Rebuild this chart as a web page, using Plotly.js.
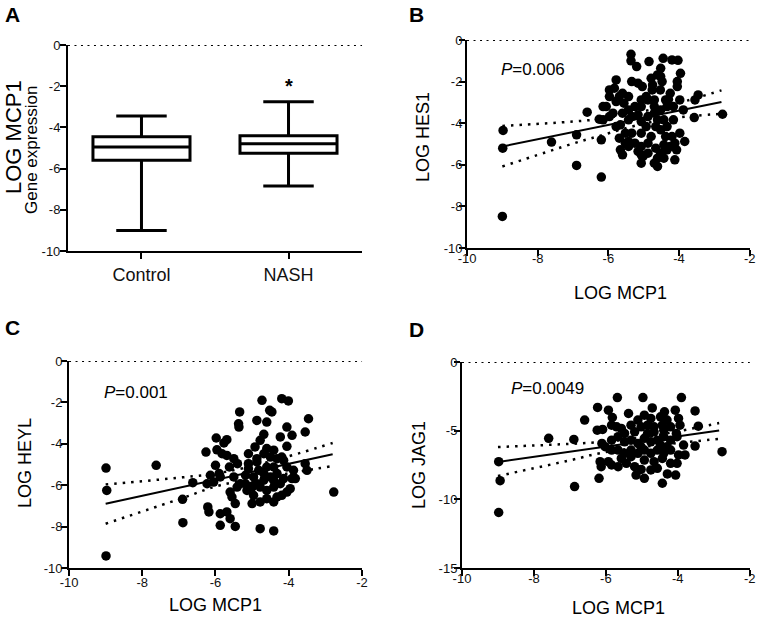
<!DOCTYPE html>
<html>
<head>
<meta charset="utf-8">
<script src="https://cdn.plot.ly/plotly-3.0.1.min.js"></script>
<style>html,body{margin:0;padding:0;background:#fff;}#chart{width:762px;height:620px;}</style>
</head>
<body>
<div id="chart"></div>
<script>
// ---------- Panel A: box plot ----------
const GROUPS = ['Control', 'NASH'];
const BOX_LOWER = [-9.0, -6.85];
const BOX_Q1 = [-5.6, -5.25];
const BOX_MEDIAN = [-4.95, -4.8];
const BOX_Q3 = [-4.45, -4.4];
const BOX_UPPER = [-3.45, -2.75];

// ---------- Panel B: LOG MCP1 vs LOG HES1 ----------
const B_POINTS = [[-8.98,-4.35],[-8.99,-5.2],[-9.0,-8.48],[-7.61,-4.91],[-6.9,-6.03],[-6.9,-4.56],[-6.6,-3.47],[-6.2,-6.59],[-6.26,-3.81],[-6.2,-4.8],
[-5.36,-0.69],[-5.36,-1.0],[-4.85,-1.04],[-4.45,-0.88],[-4.2,-0.96],[-4.03,-0.98],[-3.96,-1.6],[-4.05,-2.0],[-4.05,-2.24],[-5.78,-1.92],
[-5.34,-2.0],[-5.2,-1.28],[-4.79,-1.84],[-4.52,-1.36],[-4.48,-2.0],[-4.76,-2.4],[-5.04,-2.24],[-4.93,-2.72],[-4.53,-2.4],[-5.97,-2.4],
[-5.83,-2.32],[-5.6,-2.56],[-5.43,-2.72],[-5.97,-2.72],[-6.06,-3.2],[-5.78,-2.96],[-5.56,-3.04],[-5.6,-3.52],[-5.43,-3.84],[-5.25,-3.2],
[-5.07,-3.2],[-4.88,-2.88],[-4.7,-2.88],[-4.3,-2.85],[-4.34,-3.2],[-4.16,-3.2],[-3.98,-2.88],[-3.55,-2.88],[-3.46,-2.64],[-3.57,-3.73],
[-2.77,-3.57],[-3.84,-4.88],[-3.98,-4.48],[-4.12,-4.96],[-4.07,-5.28],[-4.12,-5.76],[-4.43,-5.04],[-4.52,-5.44],[-4.61,-6.08],[-4.7,-5.92],
[-4.61,-5.68],[-5.07,-5.92],[-5.02,-5.6],[-4.88,-5.44],[-5.16,-5.36],[-5.43,-4.88],[-5.66,-5.28],[-5.6,-5.52],[-5.69,-4.72],[-5.78,-4.16],
[-5.66,-4.08],[-5.07,-4.48],[-4.79,-4.64],[-4.88,-4.96],[-4.52,-4.32],[-4.34,-4.16],[-4.38,-4.64],[-4.2,-4.64],[-4.25,-5.12],[-5.25,-4.96],
[-5.34,-4.48],[-5.34,-3.68],[-4.88,-3.68],[-4.7,-3.52],[-4.52,-3.36],[-4.61,-3.84],[-5.07,-3.92],[-5.16,-3.6],[-5.87,-3.52],[-5.97,-3.68],
[-6.15,-3.84],[-6.15,-3.2],[-5.52,-4.48],[-5.52,-4.96],[-5.07,-5.12],[-4.66,-5.2],[-4.93,-4.16],[-4.66,-4.16],[-4.43,-3.84],[-4.16,-3.84],
[-3.88,-3.36],[-4.38,-2.88],[-4.25,-2.56],[-5.07,-2.88],[-4.75,-2.16],[-4.61,-1.68],[-4.52,-1.76],[-5.16,-2.08],[-4.7,-3.2],[-5.43,-3.36],
[-5.69,-2.72],[-4.43,-5.68],[-4.34,-5.28],[-5.07,-5.52],[-5.43,-5.12]];
const B_FIT_X = [-9.0, -2.8];
const B_FIT_Y = [-5.12, -2.98];
const B_CI_X = [-9.0, -7.0, -6.27, -5.0, -4.0, -2.8];
const B_CI_UPPER = [-4.13, -3.92, -3.8, -3.42, -3.02, -2.42];
const B_CI_LOWER = [-6.08, -4.98, -4.62, -4.02, -3.72, -3.55];

// ---------- Panel C: LOG MCP1 vs LOG HEYL ----------
const C_POINTS = [[-8.99,-5.17],[-8.97,-6.25],[-8.99,-9.42],[-7.62,-5.04],[-6.9,-6.68],[-6.89,-7.81],[-6.62,-5.88],[-2.77,-6.33],
[-6.26,-4.4],[-5.98,-3.72],[-5.77,-3.96],[-5.69,-3.8],[-5.96,-4.29],[-5.82,-4.48],[-5.69,-4.56],[-6.0,-5.04],[-5.9,-5.44],[-6.14,-5.52],
[-6.23,-5.93],[-6.05,-5.85],[-5.87,-5.6],[-6.21,-7.05],[-6.18,-7.29],[-5.87,-7.38],[-5.69,-7.29],[-5.6,-7.62],[-5.87,-7.94],[-5.46,-7.99],
[-5.46,-6.89],[-5.6,-6.33],[-5.55,-6.57],[-5.62,-5.12],[-5.4,-4.96],[-5.34,-2.46],[-5.37,-3.03],[-5.36,-3.19],[-4.73,-1.9],[-4.52,-2.38],
[-4.46,-2.46],[-4.87,-2.87],[-4.6,-2.95],[-4.19,-1.82],[-4.01,-1.93],[-4.05,-3.19],[-3.91,-3.59],[-3.46,-2.79],[-3.55,-3.43],[-4.23,-3.67],
[-4.05,-4.12],[-4.68,-3.54],[-4.78,-3.83],[-4.92,-4.15],[-5.1,-4.48],[-5.1,-4.96],[-4.87,-4.72],[-4.68,-4.48],[-4.5,-4.64],[-4.32,-4.72],
[-4.14,-4.8],[-4.05,-5.12],[-3.87,-5.28],[-3.91,-5.68],[-3.82,-5.68],[-3.5,-5.28],[-3.55,-4.96],[-4.32,-5.44],[-4.5,-5.6],[-4.68,-5.76],
[-4.96,-5.6],[-5.18,-5.52],[-5.32,-5.93],[-5.14,-6.25],[-4.96,-6.01],[-4.78,-6.09],[-4.6,-6.25],[-4.41,-6.09],[-4.23,-5.93],[-4.05,-6.33],
[-4.96,-6.49],[-4.78,-6.81],[-4.6,-6.65],[-4.41,-6.81],[-4.32,-6.57],[-5.0,-6.89],[-4.78,-8.1],[-4.41,-8.21],[-4.19,-6.49],[-3.96,-6.17],
[-4.14,-5.68],[-5.1,-5.2],[-4.82,-5.28],[-4.6,-5.12],[-4.41,-5.12],[-5.41,-6.09],[-5.5,-5.6],[-5.18,-5.93],[-4.87,-5.93],[-4.68,-5.44],
[-4.41,-5.77],[-5.5,-4.72],[-4.6,-4.23],[-4.41,-4.31],[-4.19,-4.64],[-4.87,-4.88],[-5.0,-6.09]];
const C_FIT_X = [-9.0, -2.8];
const C_FIT_Y = [-6.9, -4.5];
const C_CI_X = [-9.0, -6.9, -5.87, -4.5, -2.8];
const C_CI_UPPER = [-5.96, -5.62, -5.4, -4.85, -3.96];
const C_CI_LOWER = [-7.86, -6.62, -6.0, -5.58, -5.07];

// ---------- Panel D: LOG MCP1 vs LOG JAG1 ----------
const D_POINTS = [[-8.98,-7.26],[-8.94,-8.64],[-8.98,-10.96],[-7.59,-5.56],[-6.89,-5.64],[-6.87,-9.07],[-6.59,-4.23],[-6.23,-3.31],[-2.77,-6.53],[-6.19,-8.47],
[-5.68,-2.59],[-4.97,-2.59],[-3.9,-2.59],[-4.71,-3.34],[-3.52,-3.56],[-4.07,-3.51],[-4.37,-3.63],[-5.93,-3.51],[-5.82,-4.04],[-5.37,-3.75],
[-5.11,-4.23],[-4.93,-3.87],[-4.75,-4.11],[-4.48,-3.99],[-4.3,-4.23],[-3.98,-4.11],[-3.94,-4.6],[-3.43,-4.67],[-6.24,-4.96],[-6.09,-4.91],
[-5.84,-4.6],[-5.7,-4.72],[-5.57,-4.84],[-5.3,-4.6],[-5.02,-4.72],[-4.84,-4.6],[-4.66,-4.72],[-4.43,-4.6],[-4.2,-4.72],[-4.04,-5.2],
[-3.52,-6.12],[-3.84,-6.05],[-3.8,-6.77],[-3.98,-6.77],[-4.02,-7.38],[-4.2,-7.38],[-4.29,-8.15],[-4.43,-8.83],[-4.06,-8.23],[-4.93,-8.47],
[-5.16,-8.23],[-5.02,-7.82],[-4.75,-7.86],[-4.57,-7.74],[-5.2,-7.62],[-5.43,-7.38],[-5.66,-7.62],[-5.84,-7.5],[-6.13,-7.62],[-6.16,-7.26],
[-5.93,-7.26],[-6.02,-6.17],[-6.11,-5.93],[-5.84,-5.69],[-5.66,-5.44],[-5.48,-5.81],[-5.3,-5.69],[-5.11,-5.93],[-4.93,-5.56],[-4.75,-5.81],
[-4.57,-5.69],[-4.39,-5.44],[-4.2,-5.69],[-4.02,-5.44],[-5.3,-6.41],[-5.11,-6.65],[-4.93,-6.41],[-4.75,-6.65],[-4.57,-6.41],[-4.39,-6.65],
[-4.2,-6.41],[-5.48,-6.65],[-5.66,-6.41],[-5.3,-6.89],[-4.93,-7.14],[-4.66,-7.26],[-4.43,-7.02],[-4.84,-5.2],[-5.2,-5.08],[-5.48,-5.2],
[-4.66,-5.08],[-4.39,-4.96],[-4.3,-6.17],[-5.84,-6.41],[-5.57,-7.02],[-5.02,-6.17],[-4.48,-6.05]];
const D_FIT_X = [-9.0, -2.85];
const D_FIT_Y = [-7.28, -4.98];
const D_CI_X = [-9.0, -6.9, -6.15, -5.0, -4.0, -2.85];
const D_CI_UPPER = [-6.19, -5.95, -5.83, -5.5, -5.05, -4.44];
const D_CI_LOWER = [-8.3, -7.1, -6.63, -6.2, -5.9, -5.6];

// ---------- Tick labels ----------
const SCATTER_X_TICKS = [-10, -8, -6, -4, -2];
const SCATTER_X_TICKTEXT = ['-10', '-8', '-6', '-4', '-2'];
const Y10_TICKS = [0, -2, -4, -6, -8, -10];
const Y10_TICKTEXT = ['0', '-2', '-4', '-6', '-8', '-10'];
const Y15_TICKS = [0, -5, -10, -15];
const Y15_TICKTEXT = ['0', '-5', '-10', '-15'];

const FONT = 'Liberation Sans, Arial, Helvetica, sans-serif';
const BLACK = '#000';
const CI_DASH = '2.5px,6px';
const ZERO_DASH = '2px,4.5px';

function scatterPanel(points, fitX, fitY, ciX, ciU, ciL, xa, ya) {
  return [
    {type: 'scatter', mode: 'lines', x: ciX, y: ciU, xaxis: xa, yaxis: ya,
     line: {color: BLACK, width: 2.5, dash: CI_DASH, shape: 'spline'}, hoverinfo: 'skip'},
    {type: 'scatter', mode: 'lines', x: ciX, y: ciL, xaxis: xa, yaxis: ya,
     line: {color: BLACK, width: 2.5, dash: CI_DASH, shape: 'spline'}, hoverinfo: 'skip'},
    {type: 'scatter', mode: 'lines', x: fitX, y: fitY, xaxis: xa, yaxis: ya,
     line: {color: BLACK, width: 2}, hoverinfo: 'skip'},
    {type: 'scatter', mode: 'markers', x: points.map(p => p[0]), y: points.map(p => p[1]),
     xaxis: xa, yaxis: ya, marker: {color: BLACK, size: 9.5}, cliponaxis: false}
  ];
}

const traces = [
  {type: 'box', x: GROUPS, q1: BOX_Q1, median: BOX_MEDIAN, q3: BOX_Q3,
   lowerfence: BOX_LOWER, upperfence: BOX_UPPER, boxpoints: false,
   xaxis: 'x', yaxis: 'y', fillcolor: '#fff', line: {color: BLACK, width: 3},
   width: 0.66, whiskerwidth: 0.52, hoverinfo: 'skip'}
].concat(
  scatterPanel(B_POINTS, B_FIT_X, B_FIT_Y, B_CI_X, B_CI_UPPER, B_CI_LOWER, 'x2', 'y2'),
  scatterPanel(C_POINTS, C_FIT_X, C_FIT_Y, C_CI_X, C_CI_UPPER, C_CI_LOWER, 'x3', 'y3'),
  scatterPanel(D_POINTS, D_FIT_X, D_FIT_Y, D_CI_X, D_CI_UPPER, D_CI_LOWER, 'x4', 'y4')
);

const axisBase = {
  showline: true, linecolor: BLACK, linewidth: 2, mirror: false,
  ticks: 'outside', ticklen: 6, tickwidth: 2, tickcolor: BLACK,
  showgrid: false, zeroline: false, fixedrange: true,
  tickfont: {family: FONT, size: 13, color: '#111'}
};
function ax(extra) { return Object.assign({}, axisBase, extra); }

const scatterX = {range: [-10, -1.998], tickmode: 'array', tickvals: SCATTER_X_TICKS, ticktext: SCATTER_X_TICKTEXT,
                  ticklabeloverflow: 'allow'};

function title(text, px, py, size, angle) {
  return {text: text, xref: 'paper', yref: 'paper', x: px / 762, y: 1 - py / 620,
          xanchor: 'center', yanchor: 'middle', textangle: angle || 0,
          showarrow: false, font: {size: size, family: FONT, color: BLACK}};
}
function letter(text, px, py) {
  return {text: '<b>' + text + '</b>', xref: 'paper', yref: 'paper', x: px / 762, y: 1 - py / 620,
          xanchor: 'left', yanchor: 'top', showarrow: false, font: {size: 21, family: FONT, color: BLACK}};
}

const layout = {
  width: 762, height: 620,
  margin: {l: 0, r: 0, t: 0, b: 0},
  paper_bgcolor: '#fff', plot_bgcolor: '#fff',
  showlegend: false,
  font: {family: FONT, color: BLACK},
  xaxis: ax({domain: [0.0892, 0.4751], anchor: 'y', type: 'category', range: [-0.5, 1.5],
             tickfont: {family: FONT, size: 18, color: '#111'}}),
  yaxis: ax({domain: [0.5952, 0.9274], anchor: 'x', range: [-10, 0], ticklabelstandoff: -3,
             tickmode: 'array', tickvals: Y10_TICKS, ticktext: Y10_TICKTEXT}),
  xaxis2: ax(Object.assign({domain: [0.6129, 0.984], anchor: 'y2', ticklabelstandoff: -9}, scatterX)),
  yaxis2: ax({domain: [0.6, 0.9355], anchor: 'x2', range: [-10, 0], ticklabelstandoff: -6,
              tickmode: 'array', tickvals: Y10_TICKS, ticktext: Y10_TICKTEXT}),
  xaxis3: ax(Object.assign({domain: [0.0906, 0.4751], anchor: 'y3', ticklabelstandoff: -5}, scatterX)),
  yaxis3: ax({domain: [0.0839, 0.4177], anchor: 'x3', range: [-10, 0], ticklabelstandoff: -4,
              tickmode: 'array', tickvals: Y10_TICKS, ticktext: Y10_TICKTEXT}),
  xaxis4: ax(Object.assign({domain: [0.6063, 0.984], anchor: 'y4', ticklabelstandoff: -9}, scatterX)),
  yaxis4: ax({domain: [0.0839, 0.4161], anchor: 'x4', range: [-15, 0], ticklabelstandoff: -6,
              tickmode: 'array', tickvals: Y15_TICKS, ticktext: Y15_TICKTEXT}),
  shapes: [
    {type: 'line', xref: 'x domain', yref: 'y', x0: 0, x1: 1, y0: 0, y1: 0, line: {color: BLACK, width: 2, dash: ZERO_DASH}},
    {type: 'line', xref: 'x2 domain', yref: 'y2', x0: 0, x1: 1, y0: 0, y1: 0, line: {color: BLACK, width: 2, dash: ZERO_DASH}},
    {type: 'line', xref: 'x3 domain', yref: 'y3', x0: 0, x1: 1, y0: 0, y1: 0, line: {color: BLACK, width: 2, dash: ZERO_DASH}},
    {type: 'line', xref: 'x4 domain', yref: 'y4', x0: 0, x1: 1, y0: 0, y1: 0, line: {color: BLACK, width: 2, dash: ZERO_DASH}}
  ],
  annotations: [
    letter('A', 3, 1), letter('B', 407, 1), letter('C', 3, 314), letter('D', 407, 316),
    title('LOG MCP1', 13, 137, 22, -90),
    title('Gene expression', 31, 150, 17, -90),
    title('LOG HES1', 423, 137, 18, -90),
    title('LOG MCP1', 620, 293, 18),
    title('LOG HEYL', 25, 463, 18, -90),
    title('LOG MCP1', 215, 605, 18),
    title('LOG JAG1', 419, 465, 18, -90),
    title('LOG MCP1', 618, 608, 18),
    {text: '<b>*</b>', xref: 'x', yref: 'y', x: 1, y: -2.0, xanchor: 'center', yanchor: 'middle', showarrow: false, font: {size: 20, family: FONT}},
    {text: '<i>P</i>=0.006', xref: 'x2', yref: 'y2', x: -9.1, y: -1.44, xanchor: 'left', yanchor: 'middle', showarrow: false, font: {size: 17, family: FONT}},
    {text: '<i>P</i>=0.001', xref: 'x3', yref: 'y3', x: -9.1, y: -1.5, xanchor: 'left', yanchor: 'middle', showarrow: false, font: {size: 17, family: FONT}},
    {text: '<i>P</i>=0.0049', xref: 'x4', yref: 'y4', x: -8.68, y: -1.94, xanchor: 'left', yanchor: 'middle', showarrow: false, font: {size: 17, family: FONT}}
  ]
};

Plotly.newPlot('chart', traces, layout, {displayModeBar: false, staticPlot: true});
</script>
</body>
</html>
